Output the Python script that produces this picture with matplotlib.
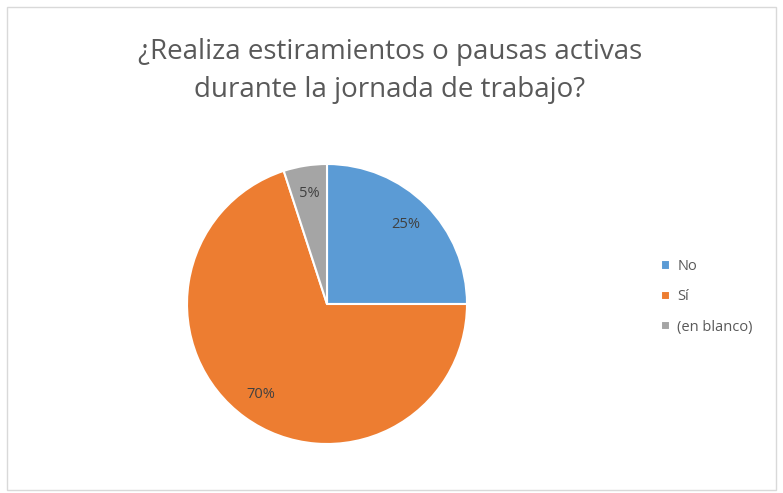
import matplotlib.pyplot as plt
from matplotlib.patches import Rectangle

# data
labels = ['No', 'Sí', '(en blanco)']
values = [25, 70, 5]
colors = ['#5B9BD5', '#ED7D31', '#A5A5A5']
title = '¿Realiza estiramientos o pausas activas\ndurante la jornada de trabajo?'

W, H = 783, 493
fig = plt.figure(figsize=(W / 100, H / 100), dpi=100)
plt.rcParams['font.family'] = ['Open Sans', 'DejaVu Sans']

# chart border
fig.patches.append(Rectangle((7 / W, 3 / H), 769 / W, 483 / H, transform=fig.transFigure,
                             fill=False, edgecolor='#D9D9D9', linewidth=1))

cx, cy, r = 327, 304, 140
ax = fig.add_axes([(cx - r) / W, (H - cy - r) / H, 2 * r / W, 2 * r / H])
wedges, texts, autotexts = ax.pie(values, colors=colors, startangle=90, counterclock=False,
                                  autopct='%d%%', pctdistance=0.8,
                                  wedgeprops=dict(edgecolor='white', linewidth=1.5),
                                  textprops=dict(color='#404040', fontsize=10.5))
ax.set_xlim(-1, 1)
ax.set_ylim(-1, 1)
ax.set_aspect('equal')

fig.text(390 / W, 1 - 71 / H, title, ha='center', va='center', fontsize=20,
         color='#595959', linespacing=1.5)

leg = fig.legend(wedges, labels, loc='center left', bbox_to_anchor=(648 / W, 1 - 297 / H),
                 frameon=False, fontsize=10.5, handlelength=0.6, handleheight=0.6,
                 handletextpad=0.5, labelspacing=1.05, labelcolor='#595959')

fig.savefig('out.png', dpi=100)
